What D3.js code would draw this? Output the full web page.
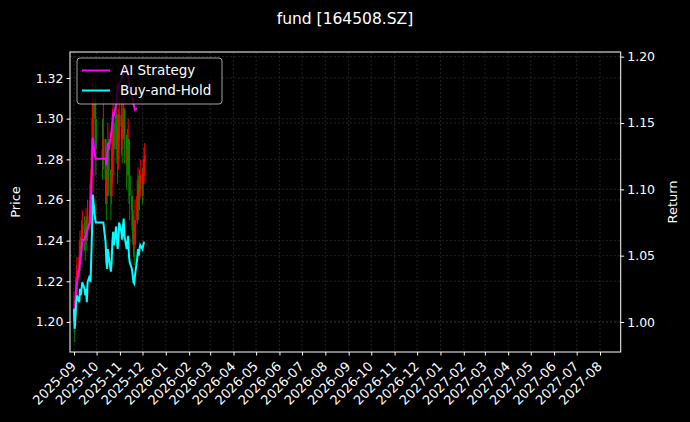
<!DOCTYPE html>
<html><head><meta charset="utf-8">
<script src="https://cdn.jsdelivr.net/npm/d3@7"></script>
<style>body{margin:0;background:#000}svg{display:block}text{font-family:"DejaVu Sans",sans-serif}</style>
</head><body><svg id="c" width="690" height="422"></svg>
<script>
// trading days: Sep 1 2025 .. Dec 4 2025 (weekdays, Oct 1-8 holiday)
const dateStrings = (()=>{const out=[];let d=new Date(2025,8,1);const end=new Date(2025,11,4);
  while(d<=end){const wd=d.getDay();const hol=d.getMonth()===9&&d.getDate()<=8;
    if(wd>0&&wd<6&&!hol)out.push(new Date(d));d=new Date(d.getFullYear(),d.getMonth(),d.getDate()+1);}return out;})();
const closePrice=[1.205,1.198,1.21,1.222,1.225,1.232,1.238,1.235,1.242,1.248,1.245,1.24,1.25,1.245,1.252,1.26,1.262,1.275,1.29,1.31,1.30,1.285,
 1.28,1.29,1.27,1.262,1.27,1.285,1.275,1.262,1.272,1.29,1.298,1.285,1.302,1.292,1.28,1.29,1.302,
 1.296,1.29,1.30,1.305,1.292,1.278,1.285,1.29,1.272,1.262,1.255,1.248,1.24,1.238,1.25,1.262,1.268,1.26,1.265,1.272,
 1.268,1.274,1.279,1.282];
const highPrice=[1.215,1.21,1.218,1.228,1.232,1.24,1.245,1.242,1.25,1.255,1.252,1.248,1.256,1.252,1.26,1.268,1.27,1.285,1.30,1.322,1.318,1.30,
 1.30,1.312,1.29,1.275,1.28,1.298,1.29,1.275,1.285,1.305,1.315,1.30,1.318,1.31,1.295,1.305,1.318,
 1.31,1.30,1.31,1.316,1.305,1.29,1.295,1.30,1.29,1.272,1.265,1.26,1.252,1.248,1.26,1.27,1.276,1.272,1.275,1.28,
 1.276,1.28,1.286,1.288];
const lowPrice=[1.195,1.19,1.198,1.208,1.215,1.222,1.228,1.225,1.232,1.238,1.235,1.23,1.238,1.235,1.24,1.248,1.25,1.26,1.272,1.285,1.288,1.272,
 1.27,1.275,1.258,1.25,1.258,1.268,1.262,1.25,1.258,1.268,1.282,1.272,1.285,1.278,1.268,1.275,1.285,
 1.282,1.278,1.285,1.29,1.278,1.265,1.272,1.275,1.258,1.25,1.245,1.238,1.232,1.228,1.236,1.248,1.255,1.25,1.255,1.262,
 1.258,1.262,1.268,1.272];
const buyHold=[1.01,0.995,1.005,1.015,1.02,1.015,1.025,1.02,1.025,1.03,1.025,1.02,1.025,1.015,1.03,1.035,1.03,1.05,1.07,1.096,1.078,1.075,
 1.075,1.075,1.06,1.045,1.04,1.055,1.05,1.038,1.045,1.06,1.068,1.058,1.072,1.062,1.055,1.062,1.075,
 1.068,1.062,1.072,1.078,1.065,1.055,1.06,1.065,1.05,1.045,1.04,1.035,1.03,1.029,1.035,1.048,1.055,1.05,1.055,1.058,
 1.055,1.058,1.06,1.06];
const aiStrategy=[1.01,1.00,1.015,1.025,1.03,1.04,1.045,1.05,1.055,1.062,1.062,1.064,1.065,1.068,1.07,1.075,1.085,1.10,1.12,1.139,1.125,1.123,
 1.123,1.123,1.123,1.118,1.125,1.135,1.13,1.14,1.145,1.15,1.158,1.155,1.165,1.17,1.175,1.178,1.18,
 1.182,1.185,1.19,1.186,1.19,1.192,1.188,1.185,1.18,1.175,1.17,1.168,1.165,1.162,1.16,1.161];
const priceTicks=[1.20,1.22,1.24,1.26,1.28,1.30,1.32];
const returnTicks=[1.00,1.05,1.10,1.15,1.20];
const seriesNames=["AI Strategy","Buy-and-Hold"];
const titleText="fund [164508.SZ]";

const svg=d3.select("#c");
const L=70,R=620.7,T=52,B=352;
const x=d3.scaleTime().domain([new Date(2025,7,26,16),new Date(2027,7,28,12)]).range([L,R]);
const yP=d3.scaleLinear().domain([1.1852,1.3328]).range([B,T]);
const yR=d3.scaleLinear().domain([0.9774,1.2035]).range([B,T]);
const monthTicks=d3.timeMonth.range(new Date(2025,8,1),new Date(2027,8,1));
const grid=svg.append("g").attr("stroke","#444").attr("stroke-width",0.5).attr("stroke-dasharray","2,2");
monthTicks.forEach(m=>grid.append("line").attr("x1",x(m)).attr("x2",x(m)).attr("y1",T).attr("y2",B));
priceTicks.forEach(v=>grid.append("line").attr("x1",L).attr("x2",R).attr("y1",yP(v)).attr("y2",yP(v)));
returnTicks.forEach(v=>grid.append("line").attr("x1",L).attr("x2",R).attr("y1",yR(v)).attr("y2",yR(v)));

// candles
const cg=svg.append("g");
dateStrings.forEach((d,i)=>{const o=i?closePrice[i-1]:closePrice[0]-0.005;const c=closePrice[i];
  const col=c>=o?"#ff0000":"#008800";
  cg.append("line").attr("x1",x(d)).attr("x2",x(d)).attr("y1",yP(highPrice[i])).attr("y2",yP(lowPrice[i])).attr("stroke",col).attr("stroke-width",1);
  cg.append("rect").attr("x",x(d)-1).attr("width",2).attr("y",yP(Math.max(o,c))).attr("height",Math.max(0.8,Math.abs(yP(o)-yP(c)))).attr("fill",col);
});
const line=d3.line().x(d=>x(d[0])).y(d=>yR(d[1]));
svg.append("path").attr("d",line(aiStrategy.map((v,i)=>[dateStrings[i],v]))).attr("fill","none").attr("stroke","#ff00ff").attr("stroke-width",2);
svg.append("path").attr("d",line(buyHold.map((v,i)=>[dateStrings[i],v]))).attr("fill","none").attr("stroke","#00ffff").attr("stroke-width",2);

svg.append("rect").attr("x",L).attr("y",T).attr("width",R-L).attr("height",B-T).attr("fill","none").attr("stroke","#fff").attr("stroke-width",1);
const ax=svg.append("g").attr("transform",`translate(0,${B})`).call(d3.axisBottom(x).tickValues(monthTicks).tickFormat(d3.timeFormat("%Y-%m")).tickSize(3.5));
ax.select(".domain").remove();
ax.selectAll("line").attr("stroke","#fff");
ax.selectAll("text").attr("fill","#fff").attr("font-size",13).attr("text-anchor","end").attr("x",0).attr("y",0).attr("dy","0.35em")
  .attr("transform","translate(-1,12) rotate(-45)");
const al=svg.append("g").attr("transform",`translate(${L},0)`).call(d3.axisLeft(yP).tickValues(priceTicks).tickFormat(d3.format(".2f")).tickSize(3.5));
al.select(".domain").remove();al.selectAll("line").attr("stroke","#fff");al.selectAll("text").attr("fill","#fff").attr("font-size",12.5);
const ar=svg.append("g").attr("transform",`translate(${R},0)`).call(d3.axisRight(yR).tickValues(returnTicks).tickFormat(d3.format(".2f")).tickSize(3.5));
ar.select(".domain").remove();ar.selectAll("line").attr("stroke","#fff");ar.selectAll("text").attr("fill","#fff").attr("font-size",12.5);

svg.append("text").attr("x",345).attr("y",24).attr("text-anchor","middle").attr("fill","#fff").attr("font-size",15.5).text(titleText);
svg.append("text").attr("transform",`translate(20,${(T+B)/2}) rotate(-90)`).attr("text-anchor","middle").attr("fill","#fff").attr("font-size",13).text("Price");
svg.append("text").attr("transform",`translate(677,${(T+B)/2}) rotate(-90)`).attr("text-anchor","middle").attr("fill","#fff").attr("font-size",13).text("Return");

const lg=svg.append("g");
lg.append("rect").attr("x",77).attr("y",58).attr("width",145).attr("height",46).attr("rx",3).attr("fill","rgba(0,0,0,0.8)").attr("stroke","#ccc").attr("stroke-width",0.8);
[["#ff00ff",70.5],["#00ffff",90.5]].forEach((s,i)=>{
  lg.append("line").attr("x1",82).attr("x2",110).attr("y1",s[1]).attr("y2",s[1]).attr("stroke",s[0]).attr("stroke-width",2);
  lg.append("text").attr("x",120).attr("y",s[1]+4.5).attr("fill","#fff").attr("font-size",13.5).text(seriesNames[i]);
});
</script></body></html>
